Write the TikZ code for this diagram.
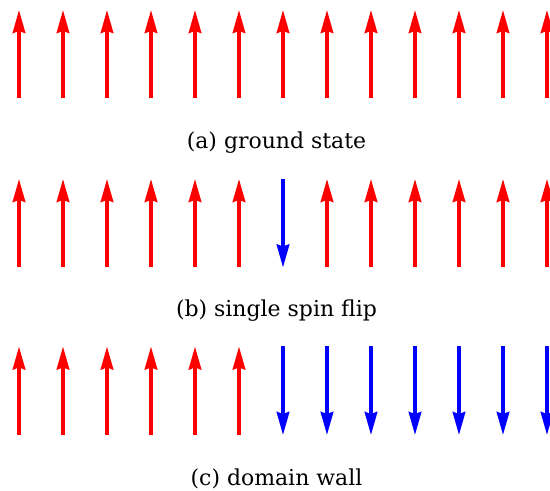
\documentclass[tikz,border=0pt]{standalone}
\usepackage{fontspec}
\setmainfont{DejaVu Serif}
\usetikzlibrary{arrows.meta}

\begin{document}
\begin{tikzpicture}
    \pgfmathsetmacro{\spinspacing}{0.88}
    \pgfmathsetmacro{\spinstart}{0.38}
    \pgfmathsetmacro{\spinlength}{1.77}
    \pgfmathsetmacro{\captionx}{5.53}
    \providecommand{\captionfontsize}{\fontsize{12.5pt}{15pt}\selectfont}
    \tikzset{
        spin/.style={line width=2pt,-{Stealth[length=0.46cm,width=0.25cm,inset=0.04cm]}},
        spinup/.style={spin,red},
        spindown/.style={spin,blue},
        caption/.style={inner sep=0,font=\captionfontsize}
    }
    \useasboundingbox (0,0) rectangle (11,9.82);
    \clip (0,0) rectangle (11,9.82);
    % (a) all spins up
    \foreach \k in {0,...,12}
        \draw[spinup] (\spinstart+\k*\spinspacing,7.85) -- ++(0,\spinlength);
    \node[caption] (capa) at (\captionx,6.96) {(a) ground state};
    % (b) one spin flipped
    \foreach \k in {0,...,12}{
        \ifnum\k=6
            \draw[spindown] (\spinstart+\k*\spinspacing,4.47+\spinlength) -- ++(0,-\spinlength);
        \else
            \draw[spinup] (\spinstart+\k*\spinspacing,4.47) -- ++(0,\spinlength);
        \fi
    }
    \node[caption] (capb) at (\captionx,3.6) {(b) single spin flip};
    % (c) domain wall
    \foreach \k in {0,...,5}
        \draw[spinup] (\spinstart+\k*\spinspacing,1.12) -- ++(0,\spinlength);
    \foreach \k in {6,...,12}
        \draw[spindown] (\spinstart+\k*\spinspacing,1.12+\spinlength) -- ++(0,-\spinlength);
    \node[caption] (capc) at (\captionx,0.24) {(c) domain wall};
\end{tikzpicture}
\end{document}
